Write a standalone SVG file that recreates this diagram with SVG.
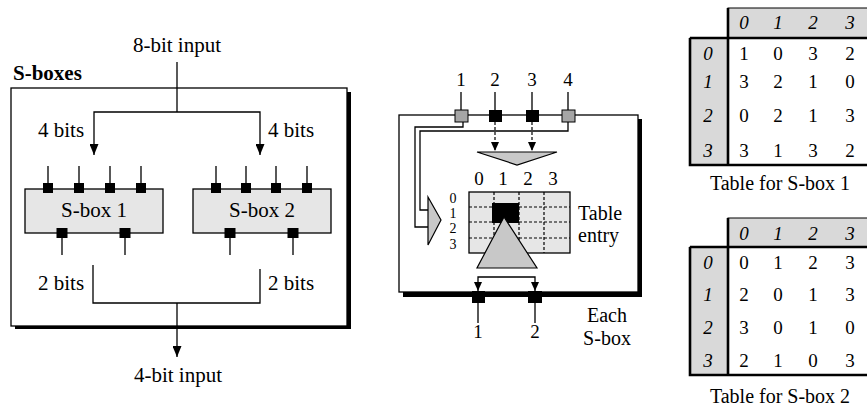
<svg xmlns="http://www.w3.org/2000/svg" width="867" height="407" viewBox="0 0 867 407" font-family="'Liberation Serif', 'Times New Roman', serif">
<style>
text{font-family:'Liberation Serif','Times New Roman',serif;fill:#000}
.l{font-size:21px}
.m{font-size:20px}
.s{font-size:19px}
.xs{font-size:14px}
.c{text-anchor:middle}
.i{font-style:italic}
.b{font-weight:bold}
.ln{fill:none;stroke:#000;stroke-width:1.3}
.th{fill:none;stroke:#000;stroke-width:2.6}
.dash{fill:none;stroke:#000;stroke-width:1.2;stroke-dasharray:3 2}
.pin{fill:#000}
.gpin{fill:#a6a6a6;stroke:#000;stroke-width:1}
.box{fill:#e6e6e6;stroke:#000;stroke-width:1.3}
.tri{fill:#c8c8c8;stroke:#000;stroke-width:1.2}
.hd{fill:#d9d9d9;stroke:#000;stroke-width:1}
</style>
<defs>
<marker id="arr" viewBox="0 0 11 9" refX="11" refY="4.5" markerWidth="11" markerHeight="9" markerUnits="userSpaceOnUse" orient="auto"><path d="M0,0 L11,4.5 L0,9 z" fill="#000"/></marker>
<marker id="arrs" viewBox="0 0 9 8" refX="9" refY="4" markerWidth="9" markerHeight="8" markerUnits="userSpaceOnUse" orient="auto"><path d="M0,0 L9,4 L0,8 z" fill="#000"/></marker>
</defs>

<!-- Left panel -->
<g id="sboxes-frame">
<rect x="15" y="92" width="336" height="237" fill="#000"/>
<rect x="11" y="88" width="336" height="238" fill="#fff" stroke="#000" stroke-width="1.3"/>
<text class="l b" x="13" y="80">S-boxes</text>
</g>
<text class="l c" x="177" y="52">8-bit input</text>
<text class="l" x="38" y="137">4 bits</text>
<text class="l" x="268" y="137">4 bits</text>
<text class="l" x="38" y="290">2 bits</text>
<text class="l" x="268" y="290">2 bits</text>
<text class="l c" x="178" y="382">4-bit input</text>

<g id="sbox1">
<rect class="box" x="25" y="189" width="138" height="44"/>
<path class="ln" d="M48,166V188M79,166V188M110,166V188M141,166V188M62,233V255M125,233V255"/>
<rect class="pin" x="43" y="183" width="10" height="10"/>
<rect class="pin" x="74" y="183" width="10" height="10"/>
<rect class="pin" x="105" y="183" width="10" height="10"/>
<rect class="pin" x="136" y="183" width="10" height="10"/>
<rect class="pin" x="56.5" y="228" width="11" height="10"/>
<rect class="pin" x="119.5" y="228" width="11" height="10"/>
<text class="l c" x="94" y="217">S-box 1</text>
</g>
<g id="sbox2">
<rect class="box" x="193" y="189" width="138" height="44"/>
<path class="ln" d="M216,166V188M246,166V188M276,166V188M307,166V188M230,233V255M293,233V255"/>
<rect class="pin" x="211" y="183" width="10" height="10"/>
<rect class="pin" x="241" y="183" width="10" height="10"/>
<rect class="pin" x="271" y="183" width="10" height="10"/>
<rect class="pin" x="302" y="183" width="10" height="10"/>
<rect class="pin" x="224.5" y="228" width="11" height="10"/>
<rect class="pin" x="287.5" y="228" width="11" height="10"/>
<text class="l c" x="262" y="217">S-box 2</text>
</g>

<!-- Middle panel -->
<g id="each-sbox">
<rect x="403" y="119" width="239" height="178" fill="#000"/>
<rect x="399" y="115" width="239" height="177" fill="#fff" stroke="#000" stroke-width="1.3"/>
<text class="s c" x="461" y="86">1</text>
<text class="s c" x="495" y="86">2</text>
<text class="s c" x="532" y="86">3</text>
<text class="s c" x="568" y="86">4</text>
<path class="ln" d="M461,92V110M495,92V110M532,92V110M568,92V110M478,303V323M535,303V323"/>
<text class="m c" x="607" y="322">Each</text>
<text class="m c" x="607" y="345">S-box</text>
<text class="s c" x="478" y="338">1</text>
<text class="s c" x="535" y="338">2</text>
</g>
<g id="table-lookup">
<text class="s c" x="479" y="185">0</text>
<text class="s c" x="503" y="185">1</text>
<text class="s c" x="528" y="185">2</text>
<text class="s c" x="553" y="185">3</text>
<text class="xs c" x="453" y="203">0</text>
<text class="xs c" x="453" y="218">1</text>
<text class="xs c" x="453" y="233">2</text>
<text class="xs c" x="453" y="249">3</text>
<rect class="box" x="469" y="192" width="101" height="61" stroke-width="1.1"/>
<path class="dash" d="M494,192V253M519,192V253M544,192V253M469,207H570M469,222H570M469,238H570"/>
<rect class="pin" x="492" y="203" width="27" height="20"/>
<polygon class="tri" points="504,217 537,268 477,268"/>
<text class="m" x="578" y="220">Table</text>
<text class="m" x="578" y="242">entry</text>
</g>
<g id="row-mux"><polygon class="tri" points="428,197 441,220 428,245"/></g>
<g id="col-mux"><polygon class="tri" points="477,152 557,152 517,165"/></g>

<g id="connectors">
<path class="ln" d="M177,62V112"/>
<path class="ln" d="M177,112H94V155" marker-end="url(#arr)"/>
<path class="ln" d="M177,112H260V155" marker-end="url(#arr)"/>
<path class="ln" d="M93,265V303H260V269"/>
<path class="ln" d="M177,303V357" marker-end="url(#arr)"/>
<path class="ln" d="M463,122V127H415V227H428"/>
<path class="ln" d="M568,122V131H420V210H428"/>
<path class="dash" d="M495,122V151" marker-end="url(#arrs)"/>
<path class="dash" d="M532,122V151" marker-end="url(#arrs)"/>
<path class="ln" d="M506,277H478V291" marker-end="url(#arrs)"/>
<path class="ln" d="M506,277H535V291" marker-end="url(#arrs)"/>
</g>

<g id="pins-middle">
<rect class="gpin" x="455" y="110" width="13" height="12"/>
<rect class="pin" x="489" y="110" width="13" height="12"/>
<rect class="pin" x="526" y="110" width="13" height="12"/>
<rect class="gpin" x="562" y="110" width="13" height="12"/>
<rect class="pin" x="472" y="291" width="13" height="12"/>
<rect class="pin" x="528" y="291" width="14" height="12"/>
</g>

<!-- Tables -->
<g id="table1">
<rect class="hd" x="728" y="8" width="145" height="30"/>
<rect class="hd" x="690" y="38" width="38" height="127"/>
<rect x="728" y="38" width="145" height="127" fill="#fff"/>
<path class="th" d="M690,38H872M728,8V165M690,38V165H872"/>
<g class="s i c"><text x="744" y="29">0</text><text x="778" y="29">1</text><text x="813" y="29">2</text><text x="850" y="29">3</text>
<text x="708" y="60">0</text><text x="708" y="88">1</text><text x="708" y="122">2</text><text x="708" y="157">3</text></g>
<g class="s c">
<text x="744" y="60">1</text><text x="778" y="60">0</text><text x="813" y="60">3</text><text x="850" y="60">2</text>
<text x="744" y="88">3</text><text x="778" y="88">2</text><text x="813" y="88">1</text><text x="850" y="88">0</text>
<text x="744" y="122">0</text><text x="778" y="122">2</text><text x="813" y="122">1</text><text x="850" y="122">3</text>
<text x="744" y="157">3</text><text x="778" y="157">1</text><text x="813" y="157">3</text><text x="850" y="157">2</text>
</g>
<text class="m c" x="780" y="190">Table for S-box 1</text>
</g>
<g id="table2">
<rect class="hd" x="728" y="218" width="145" height="29"/>
<rect class="hd" x="690" y="247" width="38" height="128"/>
<rect x="728" y="247" width="145" height="128" fill="#fff"/>
<path class="th" d="M690,247H872M728,218V375M690,247V375H872"/>
<g class="s i c"><text x="744" y="240">0</text><text x="778" y="240">1</text><text x="813" y="240">2</text><text x="850" y="240">3</text>
<text x="708" y="269">0</text><text x="708" y="301">1</text><text x="708" y="334">2</text><text x="708" y="367">3</text></g>
<g class="s c">
<text x="744" y="269">0</text><text x="778" y="269">1</text><text x="813" y="269">2</text><text x="850" y="269">3</text>
<text x="744" y="301">2</text><text x="778" y="301">0</text><text x="813" y="301">1</text><text x="850" y="301">3</text>
<text x="744" y="334">3</text><text x="778" y="334">0</text><text x="813" y="334">1</text><text x="850" y="334">0</text>
<text x="744" y="367">2</text><text x="778" y="367">1</text><text x="813" y="367">0</text><text x="850" y="367">3</text>
</g>
<text class="m c" x="780" y="403">Table for S-box 2</text>
</g>
</svg>
